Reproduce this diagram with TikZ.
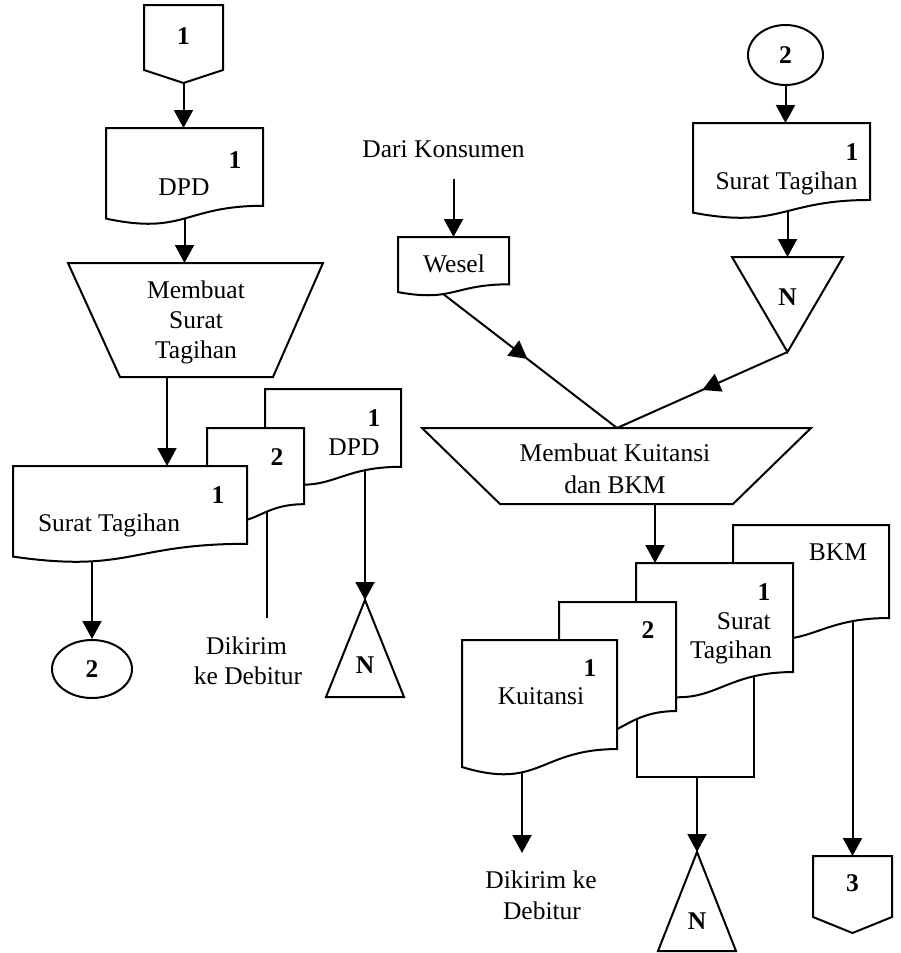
\documentclass[tikz,border=0pt]{standalone}
\usepackage{fontspec}
\setmainfont{Liberation Serif}
\usetikzlibrary{arrows.meta,decorations.markings,fit,backgrounds,shapes.geometric}

\tikzset{
  shp/.style={draw=black, line width=2pt, fill=white, line join=miter},
  conn/.style={draw=black, line width=2pt},
  arr/.style={conn, -{Triangle[width=19pt,length=18pt]}},
  midarr/.style={conn, postaction={decorate},
    decoration={markings, mark=at position 0.5 with {\arrow{Triangle[width=19pt,length=18pt]}}}},
  lbl/.style={inner sep=0pt, text height=16.5pt, text depth=0pt, font=\fontsize{25.5}{30}\selectfont},
  num/.style={lbl, font=\fontsize{25.5}{30}\selectfont\bfseries},
  box/.style={inner sep=0pt, outer sep=0pt},
  oval/.style={shp, ellipse, inner sep=0pt, font=\fontsize{25.5}{30}\selectfont\bfseries},
}

% document symbol: name, left, top, right, height (wavy bottom edge)
\newcommand{\docshape}[5]{%
  \draw[shp] (#2,#3) -- (#4,#3) -- (#4,{#3+0.802*#5})
    .. controls ({(#2+#4)/2},{#3+0.802*#5}) and ({(#2+#4)/2},{#3+1.1075*#5}) .. (#2,{#3+0.934*#5}) -- cycle;
  \node[box, fit={(#2,#3) (#4,{#3+0.87*#5})}] (#1) {};
}
% off-page connector: name, left, top, right, side bottom, point
\newcommand{\offpage}[6]{%
  \draw[shp] (#2,#3) -- (#4,#3) -- (#4,#5) -- ({(#2+#4)/2},#6) -- (#2,#5) -- cycle;
  \node[box, fit={(#2,#3) (#4,#6)}] (#1) {};
}

\begin{document}
\begin{tikzpicture}[x=1pt,y=-1pt]
\useasboundingbox (0,0) rectangle (900,953);

% ---------- left column ----------
\offpage{c1}{144}{5}{223}{70}{83}
\node[num] (c1-t) at (183.5,36) {1};

\docshape{dpd}{106}{128}{263}{97}
\node[num] (dpd-n) at (235,160) {1};
\node[lbl] (dpd-t) at (184,187) {DPD};

\draw[shp] (68,263) -- (323,263) -- (273,377) -- (120,377) -- cycle;
\node[box, fit={(68,263) (323,377)}] (trapL) {};
\node[lbl] (trapL-t1) at (196,290.5) {Membuat};
\node[lbl] (trapL-t2) at (196,320.5) {Surat};
\node[lbl] (trapL-t3) at (196,350.5) {Tagihan};
\coordinate (trapL-out) at (167,377);

% output stack: DPD, copy 2, Surat Tagihan
\docshape{dpdL}{265}{389}{401}{97}
\node[num] (dpdL-n) at (374,418) {1};
\node[lbl] (dpdL-t) at (354,447.5) {DPD};

\docshape{doc2L}{207}{428}{304}{95}
\node[num] (doc2L-n) at (277,457) {2};

\docshape{stL}{13}{466}{247}{97}
\node[num] (stL-n) at (218,495) {1};
\node[lbl] (stL-t) at (109,523.5) {Surat Tagihan};

\node[oval, minimum width=80pt, minimum height=58pt] (e2L) at (92,669) {2};

\node[lbl] (dik1-a) at (246.5,646) {Dikirim};
\node[lbl] (dik1-b) at (248,676.5) {ke Debitur};
\coordinate (dik1-in) at (267,618);

\draw[shp] (365,600) -- (404,697) -- (326,697) -- cycle;
\node[box, fit={(326,600) (404,697)}] (nL) {};
\node[num] (nL-t) at (365,665) {N};

% ---------- right column ----------
\node[lbl] (dari) at (443.5,149.5) {Dari Konsumen};
\coordinate (dari-out) at ([yshift=-21pt]dari.south);

\docshape{wesel}{398}{237}{509}{59}
\node[lbl] (wesel-t) at (454,264.5) {Wesel};
\coordinate (wesel-out) at (438,290);

\node[oval, minimum width=75pt, minimum height=60pt] (e2R) at (785.5,55) {2};

\docshape{stR}{693}{123}{870}{96}
\node[num] (stR-n) at (852,152) {1};
\node[lbl] (stR-t) at (786.5,181.5) {Surat Tagihan};

\draw[shp] (732,257) -- (843,257) -- (787.5,352) -- cycle;
\node[box, fit={(732,257) (843,352)}] (invN) {};
\node[num] (invN-t) at (787.5,297) {N};

\draw[shp] (422,428) -- (811,428) -- (733,504) -- (500,504) -- cycle;
\node[box, fit={(422,428) (811,504)}] (trapR) {};
\node[lbl] (trapR-t1) at (615,453.5) {Membuat Kuitansi};
\node[lbl] (trapR-t2) at (615,485) {dan BKM};
\coordinate (trapR-in) at (617,428);
\coordinate (trapR-out) at (655,504);

% output stack: BKM, Surat Tagihan, copy 2, Kuitansi
\docshape{bkm}{733}{525}{889}{116}
\node[lbl] (bkm-t) at (838,552.5) {BKM};

\draw[shp] (637,600) rectangle (754,777);
\node[box, fit={(637,600) (754,777)}] (rectM) {};

\docshape{stM}{636}{563}{793}{136}
\node[num] (stM-n) at (764,592.5) {1};
\node[lbl, anchor=east] (stM-t1) at (771,621) {Surat};
\node[lbl, anchor=east] (stM-t2) at (772,650.5) {Tagihan};

\docshape{doc2R}{559}{602}{676}{136}
\node[num] (doc2R-n) at (648,630) {2};

\docshape{kuit}{462}{640}{617}{136}
\node[num] (kuit-n) at (590,668) {1};
\node[lbl] (kuit-t) at (541,696.5) {Kuitansi};

\node[lbl] (dik2-a) at (541,880.5) {Dikirim ke};
\node[lbl] (dik2-b) at (542,911.5) {Debitur};
\coordinate (dik2-in) at (522,853);

\draw[shp] (697,852) -- (736,951) -- (658,951) -- cycle;
\node[box, fit={(658,852) (736,951)}] (nM) {};
\node[num] (nM-t) at (697,921) {N};

\offpage{c3}{813}{856}{892}{917}{933}
\node[num] (c3-t) at (852.5,883) {3};

% ---------- connectors ----------
\begin{pgfonlayer}{background}
\draw[arr] (c1.south) -- (c1.south |- dpd.north);
\draw[arr] (dpd.center) -- (dpd.center |- trapL.north);
\draw[arr] (trapL-out) -- (trapL-out |- stL.north);
\draw[arr] (e2L.north |- stL.center) -- (e2L.north);
\draw[conn] (dik1-in |- doc2L.center) -- (dik1-in);
\draw[arr] (nL.north |- dpdL.center) -- (nL.north);
\draw[arr] (dari-out -| wesel.north) -- (wesel.north);
\draw[midarr] (wesel-out) -- (trapR-in);
\draw[arr] (e2R.south) -- (e2R.south |- stR.north);
\draw[arr] (invN.north |- stR.center) -- (invN.north);
\draw[midarr] (invN.south) -- (trapR-in);
\draw[arr] (trapR-out) -- (trapR-out |- stM.north);
\draw[arr] (dik2-in |- kuit.center) -- (dik2-in);
\draw[arr] (nM.north |- rectM.center) -- (nM.north);
\draw[arr] (c3.north |- bkm.center) -- (c3.north);
\end{pgfonlayer}
\end{tikzpicture}
\end{document}
